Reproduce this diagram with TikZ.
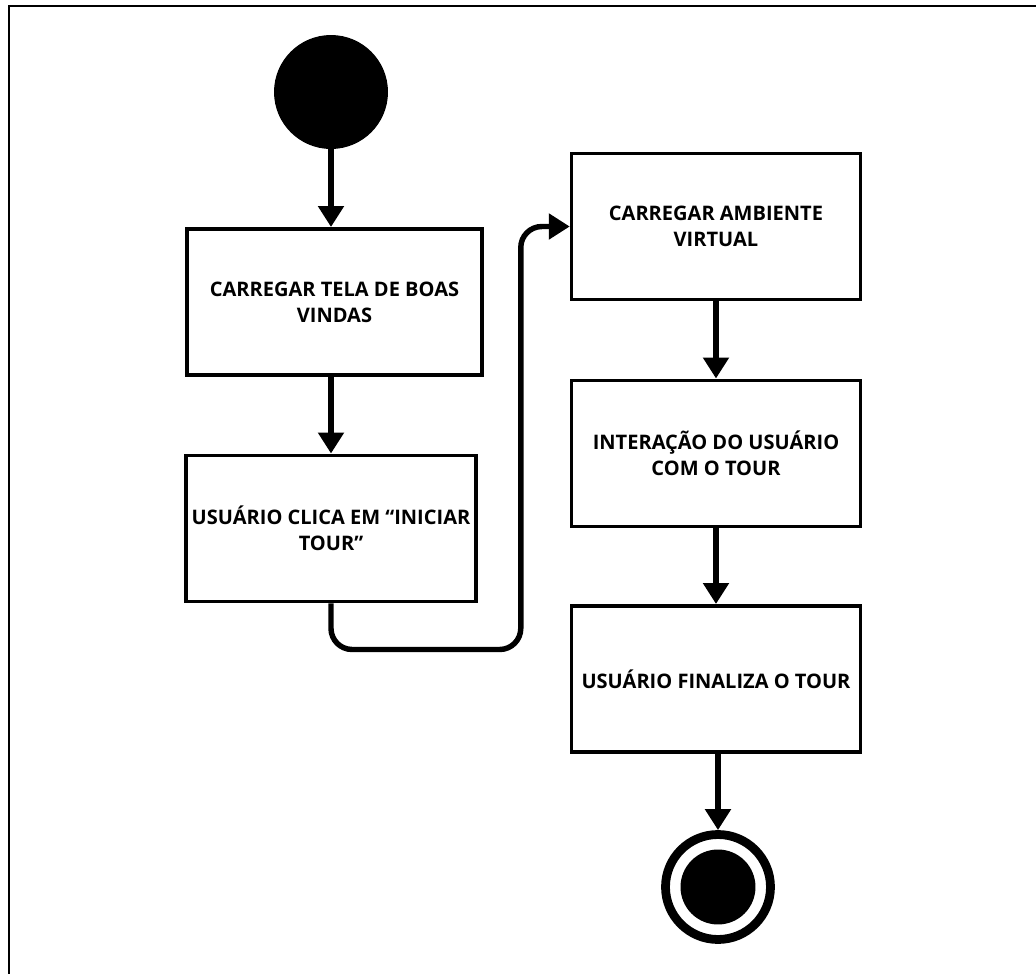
\documentclass[tikz,border=0pt]{standalone}
\usepackage{fontspec}
\setmainfont{Open Sans}
\usetikzlibrary{positioning,calc,arrows.meta}

\begin{document}
\begin{tikzpicture}[x=0.02cm, y=-0.02cm, flow/.style={line width=3.1pt, -{Triangle[width=0.5cm, length=0.42cm]}}, act/.style={rectangle, draw, line width=2pt, minimum width=5.78cm, minimum height=2.93cm, align=center, inner sep=2pt, font=\fontsize{11.4}{14.8}\selectfont\bfseries}, startdot/.style={circle, fill=black, minimum size=2.28cm, inner sep=0pt}, enddot/.style={circle, draw, line width=5pt, minimum size=2.1cm, inner sep=0pt, path picture={\fill (path picture bounding box.center) circle (0.75cm);}}]

\useasboundingbox (0,0) rectangle (1036,974);
\draw[line width=1.7pt] (1036,6) -- (9,6) -- (9,974);

\node[startdot] (start) at (331,92) {};
\node[act, minimum width=5.9cm] (b1) at (334.5,302) {CARREGAR TELA DE BOAS\\VINDAS};
\node[act, minimum width=5.8cm] (b2) at (331,528.5) {USUÁRIO CLICA EM “INICIAR\\TOUR”};
\node[act] (b3) at (716,226.5) {CARREGAR AMBIENTE\\VIRTUAL};
\node[act] (b4) at (716,453.5) {INTERAÇÃO DO USUÁRIO\\COM O TOUR};
\node[act] (b5) at (716,679) {USUÁRIO FINALIZA O TOUR};
\node[enddot] (end) at (718,887) {};

\draw[flow] (start.south) -- (start.south |- b1.north);
\draw[flow] (b2.north |- b1.south) -- (b2.north);
\draw[flow, rounded corners=12] (b2.south) -- ++(0,46) -| ([xshift=-0.98cm]b3.west) -- (b3.west);
\draw[flow] (b3.south) -- (b4.north);
\draw[flow] (b4.south) -- (b5.north);
\draw[flow] (end.north |- b5.south) -- (end.north);
\end{tikzpicture}
\end{document}
